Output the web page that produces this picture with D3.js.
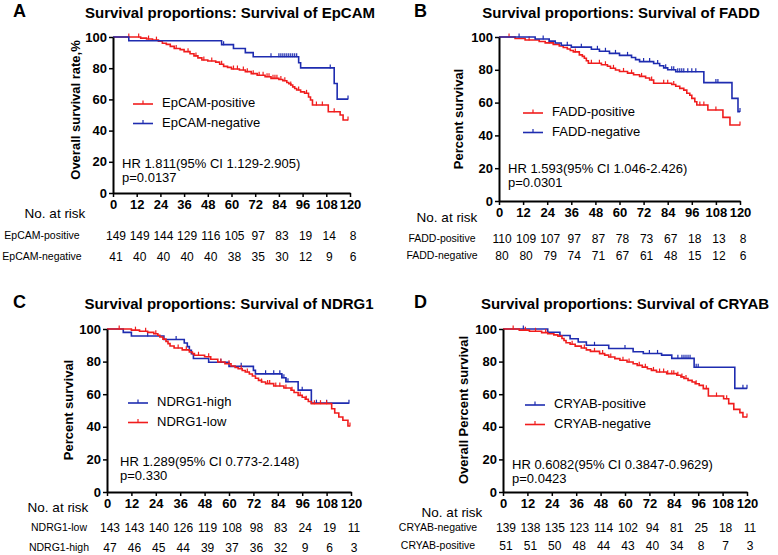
<!DOCTYPE html>
<html><head><meta charset="utf-8">
<script src="https://cdn.jsdelivr.net/npm/d3@7"></script>
<style>body{margin:0;background:#fff}svg{display:block}text{font-family:"Liberation Sans",Arial,sans-serif}</style>
</head><body><svg id="c" width="778" height="555"></svg>
<script>
const months = [0,12,24,36,48,60,72,84,96,108,120];
const yTicks = [0,20,40,60,80,100];

// Panel A: EpCAM
const epcamPosT = [0,14,17,20,23,25,27,29,31,34,36,39,41,43,45,48,52,54,56,58,60,64,67,70,73,77,80,84,86,88,89,90,91,92,93,95,97,99,100,101,109,115,116.5];
const epcamPosS = [100,99.3,98.7,98.0,97.3,96.0,95.3,94.0,92.6,91.9,90.6,89.3,87.9,86.6,85.3,84.6,83.9,82.5,81.2,80.5,79.5,78.8,77.8,76.5,75.5,74.5,73.5,72.8,72.0,70.8,70.0,69.2,68.0,67.0,66.0,64.8,63.9,61.5,59.6,56.4,52.1,50.0,46.8];
const epcamPosCens = [8,13,18,22,32,38,42,46,50,55,61,63,66,68,71,74,76,78,79,81,82,83,85,87,90,94,98,103,106,112,119];
const epcamNegT = [0,8,55,61,67,71,94,95,112,113.5];
const epcamNegS = [100,97.6,95.1,92.6,90.0,87.3,83.5,80.2,70.2,60.2];
const epcamNegCens = [56,80,84,85,86,87,88,89,90,91,92,93,110,119];
const epcamRiskPos = [149,149,144,129,116,105,97,83,19,14,8];
const epcamRiskNeg = [41,40,40,40,40,38,35,30,12,9,6];

// Panel B: FADD
const faddPosT = [0,8,13,20,23,27,30,32,34,35.5,37,40,41.5,42.5,43.5,44.5,51,54,55.5,58,60,64,67,70,73,75,77,86,88,90,92,93.5,95,96,97.5,98.5,104,111.5,115];
const faddPosS = [100,99.1,98.2,97.3,96.4,95.5,94.5,93.6,92.7,91.8,90.9,89.1,88.2,87.0,85.5,84.0,83.1,82.2,80.9,79.9,79.0,78.0,77.0,76.0,75.0,73.8,71.8,71.0,70.0,68.7,67.6,65.7,64.5,62.6,60.5,58.5,55.5,51.0,46.3];
const faddPosCens = [5,15,25,38,46,50,53,57,62,66,71,76,82,84,87,100,102,108,120];
const faddNegT = [0,18,25,28,31,36,46,50,55,60,66,68,70,77,80,82,84,88,102,116,119];
const faddNegS = [100,98.8,97.5,96.3,95.0,93.8,92.5,91.3,90.0,88.8,87.5,86.2,85.0,83.8,82.5,81.2,80.0,78.8,72.2,62.6,54.5];
const faddNegCens = [10,22,34,41,49,53,58,64,72,75,79,83,86,87,89,90,91,92,94,96,98,108,109,120];
const faddRiskPos = [110,109,107,97,87,78,73,67,18,13,8];
const faddRiskNeg = [80,80,79,74,71,67,61,48,15,12,6];

// Panel C: NDRG1
const ndrgHighT = [0,8,12,28,38,39.5,40.5,41.5,42.5,50,60,72,73,86,88,94,100.5];
const ndrgHighS = [100,97.9,95.7,93.6,91.4,89.2,87.0,84.8,81.9,79.6,77.1,74.6,72.5,70.1,67.6,62.5,54.5];
const ndrgHighCens = [20,34,56,66,78,82,85,86,87,88,89,96,103,108,119];
const ndrgLowT = [0,12,16,20,23,25,26,27.5,29,30,31,33,37,40.5,42,43,48,51,54.5,58,61,63,64.5,66.5,68,70,71.5,73,74.5,76,78,82,87,90.5,92,94,96,97.5,99,100.5,110.5,112,114,116,118.5];
const ndrgLowS = [100,99.3,98.6,97.9,97.1,96.2,95.1,93.8,92.4,91.0,89.6,88.3,87.2,85.9,84.9,83.9,83.0,81.4,79.8,78.7,77.3,76.4,75.6,74.5,73.6,72.4,71.2,69.8,68.5,67.5,66.5,65.0,63.8,62.4,61.0,59.3,58.1,56.9,55.5,54.2,51.1,48.5,46.0,44.0,40.5];
const ndrgLowCens = [6,14,19,24,35,39,45,50,56,60,66,69,76,79,80,83,85,88,91,95,98,102,105,108,119.5];
const ndrgRiskLow = [143,143,140,126,119,108,98,83,24,19,11];
const ndrgRiskHigh = [47,46,45,44,39,37,36,32,9,6,3];

// Panel D: CRYAB
const cryabPosT = [0,22,28,33,37,41,52,64,69,78,83,94,114];
const cryabPosS = [100,98.0,96.0,94.0,92.0,90.0,88.0,86.0,85.0,84.0,82.0,76.5,63.6];
const cryabPosCens = [10,45,60,72,76,86,88,89,90,91,92,95,96,118,120];
const cryabNegT = [0,8,13,19,22,25,27,29,30,31,33,35.5,38.5,41,43,47.5,50,52,55,57.5,61,64,66,68.5,71,73,75.5,80.5,85.5,87.5,89,91,93,94.5,96.5,98.5,101,108.5,111,113.5,116.5,118];
const cryabNegS = [100,99.3,98.6,97.8,97.1,96.4,95.6,94.2,92.9,91.6,90.6,89.5,88.3,87.2,86.3,84.9,84.0,82.8,81.8,80.8,79.8,78.7,77.7,76.6,75.6,74.6,73.6,72.6,71.6,70.6,69.6,68.5,67.5,66.4,65.4,63.4,58.9,57.2,54.2,50.7,48.7,46.0];
const cryabNegCens = [5,11,16,21,34,40,45,49,53,59,62,67,70,74,77,79,81,83,84,86,88,90,95,100,105,110,120];
const cryabRiskNeg = [139,138,135,123,114,102,94,81,25,18,11];
const cryabRiskPos = [51,51,50,48,44,43,40,34,8,7,3];

const RED = "#f01d1d", BLUE = "#1e2cb0";

const svg = d3.select("#c");

const panels = [
 {letter:"A", title:"Survival proportions: Survival of EpCAM", ylab:"Overall survival rate,%",
  x0:113,x1:350,yTop:37,yBot:193, letterX:13, titleX:230, titleY:18, ylabX:77, ylabY:110,
  series:[{name:"EpCAM-positive",t:epcamPosT,s:epcamPosS,c:epcamPosCens,col:RED},
          {name:"EpCAM-negative",t:epcamNegT,s:epcamNegS,c:epcamNegCens,col:BLUE}],
  legX:133, legY:104, hrX:122, hrY:168, hr:"HR 1.811(95% CI 1.129-2.905)", p:"p=0.0137",
  risk:[{name:"EpCAM-positive",v:epcamRiskPos,y:239},{name:"EpCAM-negative",v:epcamRiskNeg,y:260}],
  riskLabX:42, riskHeadX:55, riskHeadY:218},
 {letter:"B", title:"Survival proportions: Survival of FADD", ylab:"Percent survival",
  x0:499,x1:740,yTop:37,yBot:201, letterX:414, titleX:621, titleY:18, ylabX:460, ylabY:119,
  series:[{name:"FADD-positive",t:faddPosT,s:faddPosS,c:faddPosCens,col:RED},
          {name:"FADD-negative",t:faddNegT,s:faddNegS,c:faddNegCens,col:BLUE}],
  legX:523, legY:113, hrX:508, hrY:173, hr:"HR 1.593(95% CI 1.046-2.426)", p:"p=0.0301",
  risk:[{name:"FADD-positive",v:faddRiskPos,y:242},{name:"FADD-negative",v:faddRiskNeg,y:259}],
  riskLabX:442, riskHeadX:447, riskHeadY:222},
 {letter:"C", title:"Survival proportions: Survival of NDRG1", ylab:"Percent survival",
  x0:107,x1:351,yTop:329,yBot:492, letterX:13, titleX:229, titleY:309, ylabX:70, ylabY:410,
  series:[{name:"NDRG1-high",t:ndrgHighT,s:ndrgHighS,c:ndrgHighCens,col:BLUE},
          {name:"NDRG1-low",t:ndrgLowT,s:ndrgLowS,c:ndrgLowCens,col:RED}],
  legX:128, legY:403, hrX:120, hrY:466, hr:"HR 1.289(95% CI 0.773-2.148)", p:"p=0.330",
  risk:[{name:"NDRG1-low",v:ndrgRiskLow,y:531},{name:"NDRG1-high",v:ndrgRiskHigh,y:551}],
  riskLabX:59, riskHeadX:58, riskHeadY:512},
 {letter:"D", title:"Survival proportions: Survival of CRYAB", ylab:"Overall Percent survival",
  x0:503,x1:747,yTop:329,yBot:492, letterX:414, titleX:625, titleY:309, ylabX:465, ylabY:410,
  series:[{name:"CRYAB-positive",t:cryabPosT,s:cryabPosS,c:cryabPosCens,col:BLUE},
          {name:"CRYAB-negative",t:cryabNegT,s:cryabNegS,c:cryabNegCens,col:RED}],
  legX:525, legY:405, hrX:512, hrY:469, hr:"HR 0.6082(95% CI 0.3847-0.9629)", p:"p=0.0423",
  risk:[{name:"CRYAB-negative",v:cryabRiskNeg,y:531},{name:"CRYAB-positive",v:cryabRiskPos,y:549}],
  riskLabX:438, riskHeadX:452, riskHeadY:517}
];

function stepVal(ts, ss, c){ const i = d3.bisectRight(ts, c) - 1; return ss[Math.max(0,i)]; }

panels.forEach(p => {
  const g = svg.append("g");
  const x = d3.scaleLinear().domain([0,120]).range([p.x0,p.x1]);
  const y = d3.scaleLinear().domain([0,100]).range([p.yBot,p.yTop]);

  g.append("text").attr("x",p.letterX).attr("y",p.titleY-1).attr("font-size",18).attr("font-weight","bold").text(p.letter);
  g.append("text").attr("x",p.titleX).attr("y",p.titleY).attr("text-anchor","middle").attr("font-size",15).attr("font-weight","bold").text(p.title);
  g.append("text").attr("transform",`translate(${p.ylabX},${p.ylabY}) rotate(-90)`).attr("text-anchor","middle")
   .attr("dominant-baseline","middle").attr("font-size",13).attr("font-weight","bold").text(p.ylab);

  // curves
  p.series.forEach(s => {
    const pts = s.t.map((t,i)=>[t,s.s[i]]);
    const end = d3.max(s.c);
    pts.push([end, s.s[s.s.length-1]]);
    g.append("path").attr("d", d3.line().x(d=>x(d[0])).y(d=>y(d[1])).curve(d3.curveStepAfter)(pts))
     .attr("fill","none").attr("stroke",s.col).attr("stroke-width",1.6);
    g.selectAll(null).data(s.c).enter().append("line")
     .attr("x1",d=>x(d)).attr("x2",d=>x(d))
     .attr("y1",d=>y(stepVal(s.t,s.s,d))-3.5).attr("y2",d=>y(stepVal(s.t,s.s,d))+0.5)
     .attr("stroke",s.col).attr("stroke-width",1.2);
  });

  // axes
  const ax = g.append("g").attr("transform",`translate(0,${p.yBot})`)
    .call(d3.axisBottom(x).tickValues(months).tickSize(4).tickSizeOuter(0).tickPadding(3));
  const ay = g.append("g").attr("transform",`translate(${p.x0},0)`)
    .call(d3.axisLeft(y).tickValues(yTicks).tickSize(4).tickSizeOuter(0).tickPadding(2));
  [ax,ay].forEach(a => {
    a.select(".domain").attr("stroke","#000").attr("stroke-width",2);
    a.selectAll(".tick line").attr("stroke","#000").attr("stroke-width",1.5);
    a.selectAll("text").attr("font-size",13).attr("font-weight","bold").attr("fill","#000")
     .attr("font-family",'"Liberation Sans",Arial,sans-serif');
  });

  // legend
  p.series.forEach((s,i) => {
    const ly = p.legY + i*19.5;
    g.append("line").attr("x1",p.legX).attr("x2",p.legX+20).attr("y1",ly).attr("y2",ly).attr("stroke",s.col).attr("stroke-width",1.6);
    g.append("line").attr("x1",p.legX+10).attr("x2",p.legX+10).attr("y1",ly-3.5).attr("y2",ly).attr("stroke",s.col).attr("stroke-width",1.2);
    g.append("text").attr("x",p.legX+29).attr("y",ly).attr("dominant-baseline","middle").attr("font-size",13).text(s.name);
  });

  // HR text
  g.append("text").attr("x",p.hrX).attr("y",p.hrY).attr("font-size",13).text(p.hr);
  g.append("text").attr("x",p.hrX).attr("y",p.hrY+14).attr("font-size",13).text(p.p);

  // risk table
  g.append("text").attr("x",p.riskHeadX).attr("y",p.riskHeadY).attr("text-anchor","middle").attr("font-size",13.5).text("No. at risk");
  p.risk.forEach(r => {
    g.append("text").attr("x",p.riskLabX).attr("y",r.y).attr("text-anchor","middle").attr("font-size",10.5).text(r.name);
    g.selectAll(null).data(r.v).enter().append("text")
     .attr("x",(d,i)=>x(months[i])+3).attr("y",r.y+1).attr("text-anchor","middle").attr("font-size",12).text(d=>d);
  });
});
</script></body></html>
